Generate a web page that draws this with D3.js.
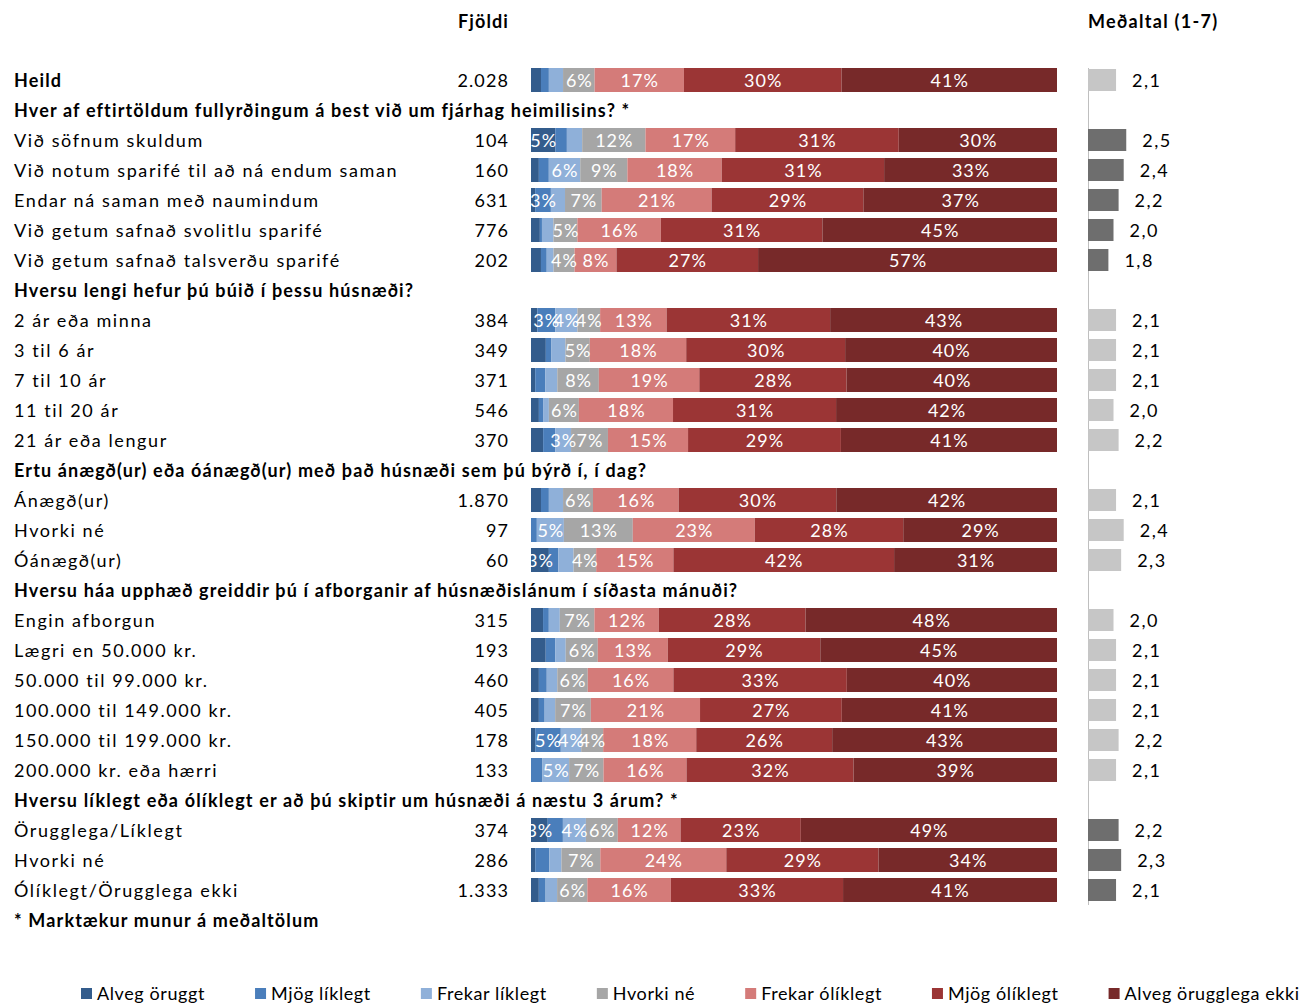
<!DOCTYPE html>
<html>
<head>
<meta charset="utf-8">
<script src="https://cdn.jsdelivr.net/npm/d3@7"></script>
<style>
  html, body { margin: 0; padding: 0; background: #fff; }
  svg { display: block; }
  text { font-family: Lato, "Open Sans", sans-serif; }
</style>
</head>
<body>
<svg id="chart" width="1309" height="1003"></svg>
<script>
// ---------------- DATA ----------------
const rowLabels = [
  "Heild",
  "Hver af eftirtöldum fullyrðingum á best við um fjárhag heimilisins? *",
  "Við söfnum skuldum",
  "Við notum sparifé til að ná endum saman",
  "Endar ná saman með naumindum",
  "Við getum safnað svolitlu sparifé",
  "Við getum safnað talsverðu sparifé",
  "Hversu lengi hefur þú búið í þessu húsnæði?",
  "2 ár eða minna",
  "3 til 6 ár",
  "7 til 10 ár",
  "11 til 20 ár",
  "21 ár eða lengur",
  "Ertu ánægð(ur) eða óánægð(ur) með það húsnæði sem þú býrð í, í dag?",
  "Ánægð(ur)",
  "Hvorki né",
  "Óánægð(ur)",
  "Hversu háa upphæð greiddir þú í afborganir af húsnæðislánum í síðasta mánuði?",
  "Engin afborgun",
  "Lægri en 50.000 kr.",
  "50.000 til 99.000 kr.",
  "100.000 til 149.000 kr.",
  "150.000 til 199.000 kr.",
  "200.000 kr. eða hærri",
  "Hversu líklegt eða ólíklegt er að þú skiptir um húsnæði á næstu 3 árum? *",
  "Örugglega/Líklegt",
  "Hvorki né",
  "Ólíklegt/Örugglega ekki",
  "* Marktækur munur á meðaltölum"
];
// "total", "question", "item", "note"
const rowTypes = [
  "total","question","item","item","item","item","item",
  "question","item","item","item","item","item",
  "question","item","item","item",
  "question","item","item","item","item","item","item",
  "question","item","item","item","note"
];
const counts = [2028,null,104,160,631,776,202,null,384,349,371,546,370,null,1870,97,60,null,315,193,460,405,178,133,null,374,286,1333,null];
const means  = [2.1,null,2.5,2.4,2.2,2.0,1.8,null,2.1,2.1,2.1,2.0,2.2,null,2.1,2.4,2.3,null,2.0,2.1,2.1,2.1,2.2,2.1,null,2.2,2.3,2.1,null];

const seriesNames = ["Alveg öruggt","Mjög líklegt","Frekar líklegt","Hvorki né","Frekar ólíklegt","Mjög ólíklegt","Alveg örugglega ekki"];
const alvegOruggt     = [1.9,null,4.6,1.5,0.8,1.7,1.9,null,1.2,2.8,0.8,1.5,2.3,null,1.9,0.0,3.4,null,2.3,2.8,1.5,1.5,0.8,0.0,null,3.2,0.8,1.5,null];
const mjogLiklegt     = [1.5,null,2.2,1.9,3.0,0.4,1.1,null,3.4,1.0,1.9,0.8,2.3,null,1.5,1.1,1.8,null,1.1,1.8,1.5,1.1,4.9,2.2,null,2.9,2.7,1.3,null];
const frekarLiklegt   = [2.7,null,2.9,6.0,2.7,2.2,1.3,null,4.2,2.7,2.3,1.1,3.0,null,2.7,5.1,2.9,null,2.1,2.0,2.0,2.0,3.9,5.1,null,4.4,2.3,2.2,null];
const hvorkiNe        = [6.0,null,12.0,9.0,7.0,4.6,4.0,null,4.3,4.6,7.9,5.7,7.0,null,5.7,13.0,4.3,null,6.6,6.1,5.8,6.8,4.2,6.6,null,6.1,7.4,5.8,null];
const frekarOliklegt  = [17,null,17,18,21,16,8,null,12.6,18.2,19.1,17.9,15.2,null,16.3,23,14.7,null,12.3,13.3,16.3,20.8,17.8,15.9,null,12,24,16,null];
const mjogOliklegt    = [30,null,31,31,29,31,27,null,31,30,28,31,29,null,30,28,42,null,28,29,33,27,26,32,null,23,29,33,null];
const alvegOrugglegaEkki = [41,null,30,33,37,45,57,null,43,40,40,42,41,null,42,29,31,null,48,45,40,41,43,39,null,49,34,41,null];

const headerCount = "Fjöldi";
const headerMean = "Meðaltal (1-7)";

// ---------------- STYLE ----------------
const colors = ["#335c8c","#4a7ebb","#8fb0d9","#a6a6a6","#d47b79","#9b3535","#772929"];
const meanLight = "#c6c6c6", meanDark = "#6e6e6e";
const FONT = 18;

const svg = d3.select("#chart");
const locale = d3.formatLocale({decimal: ",", thousands: ".", grouping: [3], currency: ["", " kr."]});
const fmtCount = locale.format(",d");
const fmtMean = locale.format(".1f");

const n = rowLabels.length;
const y = d3.scaleBand().domain(d3.range(n)).range([65, 65 + 30 * n]).paddingInner(0.2).paddingOuter(0.1);
const x = d3.scaleLinear().domain([0, 1]).range([531, 1057]);
const xm = d3.scaleLinear().domain([1, 7]).range([1088, 1088 + 153]);
const cy = i => y(i) + y.bandwidth() / 2 + 1;

const seriesArrays = [alvegOruggt, mjogLiklegt, frekarLiklegt, hvorkiNe, frekarOliklegt, mjogOliklegt, alvegOrugglegaEkki];
const table = d3.range(n).map(i => {
  const o = {i};
  seriesNames.forEach((s, k) => o[s] = seriesArrays[k][i]);
  return o;
}).filter(d => seriesArrays[0][d.i] !== null);
table.forEach(d => { d.total = d3.sum(seriesNames, s => d[s]); });
const stack = d3.stack().keys(seriesNames).value((d, key) => d[key] / d.total);
const stacked = stack(table);

// significance: rows under a question ending with "*" get dark mean bars
let darkFlag = false;
const meanIsDark = rowTypes.map((t, i) => {
  if (t === "question") darkFlag = rowLabels[i].trim().endsWith("*");
  if (t === "total") return false;
  return darkFlag;
});

// headers
svg.append("text").attr("x", 509).attr("y", 28).attr("text-anchor", "end")
  .attr("font-weight", "bold").attr("font-size", FONT).attr("letter-spacing", 1.1).text(headerCount);
svg.append("text").attr("x", 1088).attr("y", 28)
  .attr("font-weight", "bold").attr("font-size", FONT).attr("letter-spacing", 1.3).text(headerMean);

// row labels
svg.append("g").selectAll("text").data(rowLabels).join("text")
  .attr("x", 14)
  .attr("y", (d, i) => cy(i))
  .attr("dy", "0.35em")
  .attr("font-size", FONT)
  .attr("font-weight", (d, i) => rowTypes[i] === "item" ? "normal" : "bold")
  .attr("letter-spacing", (d, i) => rowTypes[i] === "item" ? 1.6 : 1.15)
  .attr("fill", "#000")
  .text(d => d);

// counts
svg.append("g").selectAll("text").data(counts.map((c, i) => ({c, i})).filter(d => d.c !== null)).join("text")
  .attr("x", 509)
  .attr("y", d => cy(d.i))
  .attr("dy", "0.35em")
  .attr("text-anchor", "end")
  .attr("font-size", FONT)
  .attr("letter-spacing", 1.1)
  .text(d => fmtCount(d.c));

// stacked bars
const layers = svg.append("g").selectAll("g").data(stacked).join("g")
  .attr("fill", (d, k) => colors[k]);
layers.selectAll("rect").data(d => d).join("rect")
  .attr("x", d => x(d[0]))
  .attr("y", d => y(d.data.i))
  .attr("width", d => Math.max(0, x(d[1]) - x(d[0])))
  .attr("height", y.bandwidth());

// segment labels
const labelG = svg.append("g");
stacked.forEach((layer, k) => {
  labelG.selectAll(null).data(layer.filter(d => d.data[seriesNames[k]] >= 3)).join("text")
    .attr("x", d => (x(d[0]) + x(d[1])) / 2 + 0.5)
    .attr("y", d => cy(d.data.i))
    .attr("dy", "0.35em")
    .attr("text-anchor", "middle")
    .attr("font-size", FONT)
    .attr("letter-spacing", 1)
    .attr("fill", "#fff")
    .text(d => Math.round(d.data[seriesNames[k]]) + "%");
});

// mean axis line
svg.append("line")
  .attr("x1", xm(1) + 0.5).attr("x2", xm(1) + 0.5)
  .attr("y1", y(0)).attr("y2", y(n - 2) + y.bandwidth() + 3)
  .attr("stroke", "#bfbfbf").attr("stroke-width", 1);

// mean bars
const meanData = means.map((m, i) => ({m, i})).filter(d => d.m !== null);
svg.append("g").selectAll("rect").data(meanData).join("rect")
  .attr("x", xm(1))
  .attr("y", d => y(d.i) + 1)
  .attr("width", d => xm(d.m) - xm(1))
  .attr("height", y.bandwidth() - 2)
  .attr("fill", d => meanIsDark[d.i] ? meanDark : meanLight);
svg.append("g").selectAll("text").data(meanData).join("text")
  .attr("x", d => xm(d.m) + 16)
  .attr("y", d => cy(d.i))
  .attr("dy", "0.35em")
  .attr("font-size", FONT)
  .attr("letter-spacing", 1.5)
  .text(d => fmtMean(d.m));

// legend
const legend = svg.append("g");
let lx = 81;
seriesNames.forEach((s, k) => {
  legend.append("rect").attr("x", lx).attr("y", 988).attr("width", 11).attr("height", 11).attr("fill", colors[k]);
  const t = legend.append("text").attr("x", lx + 16).attr("y", 1000).attr("font-size", FONT)
    .attr("letter-spacing", 0.6).text(s);
  lx += 16 + t.node().getComputedTextLength() + 50;
});
</script>
</body>
</html>
